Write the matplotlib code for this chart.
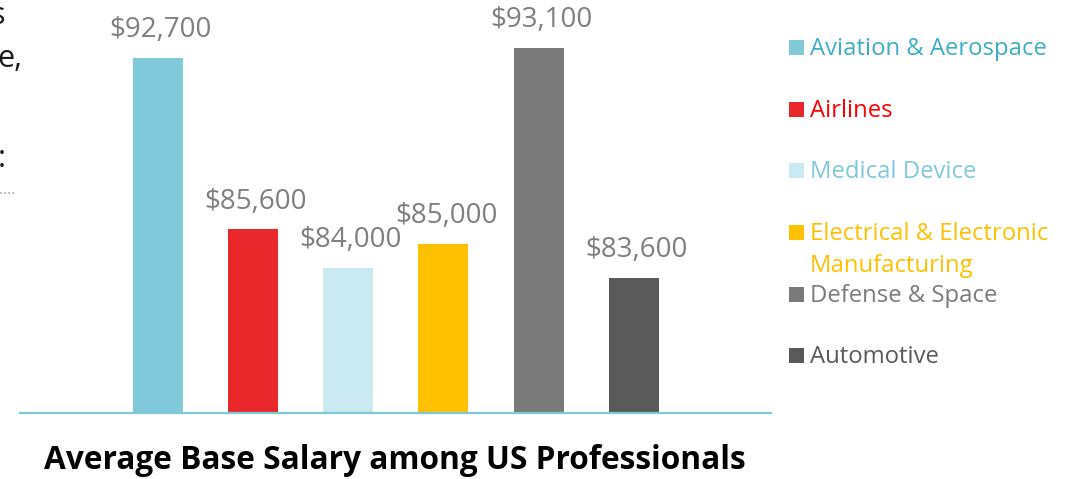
#!/usr/bin/env python3
# -*- coding: utf-8 -*-

import matplotlib
matplotlib.use("Agg")
import matplotlib.pyplot as plt
from matplotlib.patches import Rectangle
from matplotlib.lines import Line2D

plt.rcParams['font.family'] = ['Open Sans', 'DejaVu Sans']

industries = ["Aviation & Aerospace", "Airlines", "Medical Device",
              "Electrical & Electronic\nManufacturing", "Defense & Space", "Automotive"]
salaries = [92700, 85600, 84000, 85000, 93100, 83600]
value_labels = ["$92,700", "$85,600", "$84,000", "$85,000", "$93,100", "$83,600"]
bar_colors = ["#7FC9D9", "#E8282B", "#CBE9F1", "#FFC000", "#7A7A7A", "#595959"]
text_colors = ["#3AAFC7", "#FF0000", "#7FC9D9", "#FFC000", "#7A7A7A", "#595959"]

W, H = 1072, 479
fig = plt.figure(figsize=(W / 100, H / 100), dpi=100)

def fx(x):
    return x / W

def fy(y):
    return 1 - y / H

# axes: left 20px, right 771px, bottom at 413px from top
ax = fig.add_axes([fx(20), fy(413), fx(751), 413 / H])
x = list(range(len(salaries)))
ax.bar(x, salaries, width=0.525, color=bar_colors, bottom=0)
ax.set_ylim(78000, 95100)
ax.set_xlim(-1.445, 6.44)

for i, (v, s) in enumerate(zip(salaries, value_labels)):
    ax.annotate(s, (i, v), xytext=(2, 15), textcoords="offset points",
                ha="center", va="baseline", fontsize=20, color="#7F7F7F")

for side in ("top", "left", "right"):
    ax.spines[side].set_visible(False)
ax.spines["bottom"].set_color("#7FC9D9")
ax.spines["bottom"].set_linewidth(1.6)
ax.set_xticks([])
ax.set_yticks([])
ax.patch.set_alpha(0)

# legend drawn by hand (rows are not evenly stacked)
rows = [55, 117, 178, 240, 302, 363]
for lab, bc, tc, yb in zip(industries, bar_colors, text_colors, rows):
    fig.add_artist(Rectangle((fx(789), fy(yb)), fx(15), 15 / H,
                             transform=fig.transFigure, color=bc, lw=0))
    for k, line in enumerate(lab.split("\n")):
        fig.text(fx(810), fy(yb + 32 * k), line, color=tc, fontsize=17.2,
                 va="baseline", ha="left")

fig.text(fx(395), fy(469), "Average Base Salary among US Professionals",
         ha="center", va="baseline", fontsize=22.8, fontweight="bold", color="#000000")

# bits of neighbouring text cut off at the left edge
fig.text(fx(5), fy(24), "s", ha="right", va="baseline", fontsize=22, color="#1a1a1a")
fig.text(fx(22), fy(67), "e,", ha="right", va="baseline", fontsize=22, color="#1a1a1a")
fig.text(fx(6), fy(167), ":", ha="right", va="baseline", fontsize=22, color="#1a1a1a")
fig.add_artist(Line2D([fx(0), fx(15)], [fy(193), fy(193)], transform=fig.transFigure,
                      color="#AAAAAA", lw=1.2, linestyle=(0, (1, 1.5))))

fig.savefig("out.png", dpi=100)
